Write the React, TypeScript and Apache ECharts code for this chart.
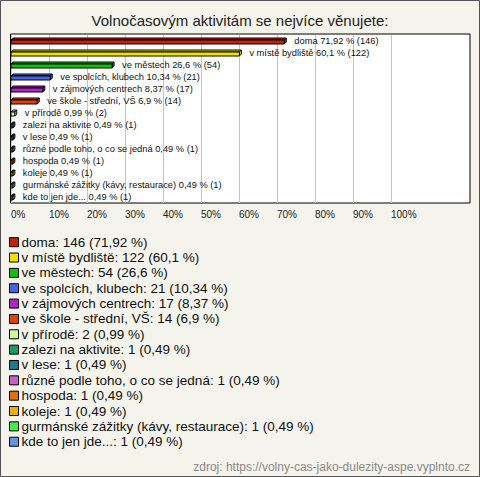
import React, { useEffect, useRef } from "react";
import * as echarts from "echarts";

const title = "Volnočasovým aktivitám se nejvíce věnujete:";
const categories = [
  "doma",
  "v místě bydliště",
  "ve městech",
  "ve spolcích, klubech",
  "v zájmových centrech",
  "ve škole - střední, VŠ",
  "v přírodě",
  "zalezi na aktivite",
  "v lese",
  "různé podle toho, o co se jedná",
  "hospoda",
  "koleje",
  "gurmánské zážitky (kávy, restaurace)",
  "kde to jen jde...",
];
const counts = [146, 122, 54, 21, 17, 14, 2, 1, 1, 1, 1, 1, 1, 1];
const percents = [71.92, 60.1, 26.6, 10.34, 8.37, 6.9, 0.99, 0.49, 0.49, 0.49, 0.49, 0.49, 0.49, 0.49];
const colors = [
  "#c4220c", "#f5e000", "#12c012", "#4466e6", "#b424c8", "#e2400e", "#c8ff96",
  "#1c9a62", "#1c7a90", "#c062c4", "#e27008", "#e6b400", "#44ee44", "#6892e2",
];
const xTicks = [0, 10, 20, 30, 40, 50, 60, 70, 80, 90, 100];
const source = "zdroj: https://volny-cas-jako-dulezity-aspe.vyplnto.cz";

const FONT = "'Liberation Sans', Arial, sans-serif";
const fmt = (p: number) => String(p).replace(".", ",");

export default function App() {
  const ref = useRef<HTMLDivElement>(null);
  useEffect(() => {
    const chart = echarts.init(ref.current!, undefined, { renderer: "svg" });

    const series = categories.map((name, i) => ({
      type: "custom",
      name,
      itemStyle: { color: colors[i] },
      clip: false,
      encode: { x: 0, y: 1 },
      data: [[percents[i], i, counts[i]]],
      renderItem: (params: any, api: any) => {
        const v = api.value(0);
        const c = api.value(1);
        const end = api.coord([v, c]);
        const start = api.coord([0, c]);
        const x0 = start[0];
        const x1 = end[0];
        const yc = end[1];
        const col = api.visual("color");
        const d = 2;
        const top = yc - 1;
        const bot = yc + 3;
        const stroke = { stroke: "#000", lineWidth: 1 };
        return {
          type: "group",
          children: [
            {
              type: "polygon",
              shape: { points: [[x0, top], [x0 + d, top - d], [x1 + d, top - d], [x1, top]] },
              style: { fill: col, ...stroke },
            },
            {
              type: "polygon",
              shape: { points: [[x1, top], [x1 + d, top - d], [x1 + d, bot - d], [x1, bot]] },
              style: { fill: col, ...stroke },
            },
            {
              type: "rect",
              shape: { x: x0, y: top, width: Math.max(x1 - x0, 0.5), height: bot - top },
              style: { fill: col, ...stroke },
            },
            {
              type: "text",
              x: x1 + 10,
              y: yc,
              style: {
                text: `${categories[c]} ${fmt(v)} % (${api.value(2)})`,
                fontSize: 9.3,
                fontFamily: FONT,
                fill: "#111",
                verticalAlign: "middle",
                align: "left",
              },
            },
          ],
        };
      },
    }));

    chart.setOption({
      animation: false,
      backgroundColor: "#f4f3ec",
      title: {
        text: title,
        left: "center",
        top: 8,
        textStyle: { fontSize: 15, fontWeight: "normal", color: "#222", fontFamily: FONT },
      },
      grid: { left: 11, width: 380, top: 35, height: 168 },
      xAxis: {
        type: "value",
        min: 0,
        max: 100,
        interval: 10,
        axisLine: { show: false },
        axisTick: { show: false },
        splitLine: { show: true, lineStyle: { color: "#c4c4c4", width: 1 } },
        axisLabel: {
          align: "left",
          margin: 6,
          fontSize: 10,
          color: "#222",
          fontFamily: FONT,
          customValues: xTicks,
          formatter: (v: number) => `${v}%`,
        },
      },
      yAxis: {
        type: "category",
        data: categories,
        inverse: true,
        show: false,
      },
      legend: {
        orient: "vertical",
        left: 9,
        top: 234.5,
        padding: 0,
        itemWidth: 9,
        itemHeight: 9,
        itemGap: 0,
        icon: "rect",
        itemStyle: { borderColor: "#000", borderWidth: 1 },
        selectedMode: false,
        data: categories,
        formatter: (name: string) => {
          const i = categories.indexOf(name);
          return `${name}: ${counts[i]} (${fmt(percents[i])} %)`;
        },
        textStyle: {
          fontSize: 13.5,
          fontFamily: FONT,
          color: "#111",
          lineHeight: 15.35,
          padding: [0, 0, 0, -2],
        },
      },
      graphic: [
        {
          type: "rect",
          z: -10,
          shape: { x: 10.5, y: 34, width: 459.5, height: 169 },
          style: { fill: "#fff", stroke: "#000", lineWidth: 1 },
        },
        {
          type: "rect",
          z: -20,
          shape: { x: 0.5, y: 0.5, width: 479, height: 476 },
          style: { fill: "none", stroke: "#555", lineWidth: 1 },
        },
        {
          type: "text",
          x: 470,
          y: 466.5,
          style: {
            text: source,
            align: "right",
            verticalAlign: "middle",
            fontSize: 12,
            fontFamily: FONT,
            fill: "#8a8a8a",
          },
        },
      ],
      series,
    });
    return () => chart.dispose();
  }, []);
  return (
    <div
      ref={ref}
      style={{ position: "absolute", left: 0, top: 0, width: 480, height: 477 }}
    />
  );
}
